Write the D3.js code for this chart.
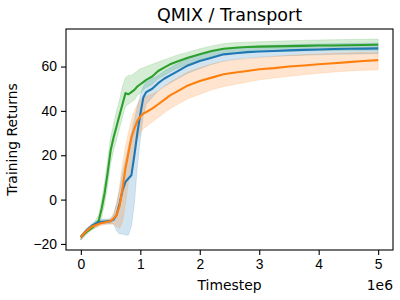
<!DOCTYPE html>
<html>
<head>
<meta charset="utf-8">
<script src="https://cdn.jsdelivr.net/npm/d3@7"></script>
<style>
  body { margin: 0; background: #fff; }
  svg { font-family: "DejaVu Sans", sans-serif; }
  .axis path, .axis line { stroke: #000; stroke-width: 1.1; }
  .axis text { font-size: 13.9px; fill: #000; }
</style>
</head>
<body>
<svg id="chart" width="400" height="300"></svg>
<script>
// timesteps (in millions)
const steps = [0, 0.1, 0.2, 0.3, 0.35, 0.4, 0.45, 0.5, 0.55, 0.6, 0.65, 0.7, 0.75, 0.8, 0.85, 0.9, 0.95, 1.0, 1.05, 1.1,
  1.2, 1.3, 1.4, 1.5, 1.6, 1.8, 2.0, 2.2, 2.4, 2.6, 2.8, 3.0, 3.25, 3.5, 3.75, 4.0, 4.25, 4.5, 4.75, 5.0];

const greenMean = [-16.9, -14.5, -12.5, -9.5, -4, 3, 12, 22, 28, 33, 38, 43, 48, 47.5, 48.5, 49.5, 51, 52, 53, 54,
  55.5, 58, 59.5, 61, 62, 64, 65.5, 67, 68, 68.5, 68.8, 69, 69.1, 69.2, 69.3, 69.5, 69.5, 69.6, 69.7, 69.8];
const greenLo = [-18.2, -15.5, -13.5, -12, -8, -2, 6, 16, 22, 27, 32, 37, 42, 43, 44, 45, 47, 48, 49.5, 50.5,
  52, 54.5, 56, 57.5, 59, 61, 63, 64.5, 65.5, 66, 66.5, 66.8, 66.9, 67, 67.1, 67.2, 67.2, 67.3, 67.3, 67.3];
const greenHi = [-16, -13.5, -11.5, -7, 0, 8, 18, 28, 34, 40, 45, 51, 55, 56, 56, 57, 58, 59, 59.5, 60,
  61, 62, 63, 64, 65, 66.5, 68, 69.3, 70.3, 70.8, 71, 71.2, 71.4, 71.6, 71.8, 72, 72.1, 72.2, 72.3, 72.4];

const blueMean = [-16.9, -13.8, -11.5, -10.2, -10, -9.9, -9.8, -9.7, -9, -7, -2, 4, 8, 9.5, 11, 20, 30, 38.5, 46, 48.5,
  50, 52.5, 54.5, 56, 57.5, 60.5, 62.5, 64, 65.5, 66, 66.5, 66.8, 67, 67.3, 67.5, 67.7, 67.9, 68, 68.1, 68.2];
const blueLo = [-18.2, -14.8, -12.5, -11.2, -11, -11, -11, -11, -11, -14, -15.5, -15.5, -16, -16, -12, -2, 15, 27, 38, 43,
  46, 49, 51, 52.5, 54, 57, 59, 61, 62.5, 63.2, 63.8, 64.2, 64.6, 64.9, 65.1, 65.3, 65.5, 65.6, 65.7, 65.8];
const blueHi = [-16, -12.8, -10.5, -9.2, -8.8, -8.8, -8.8, -8.5, -7, -2, 4, 12, 18, 24, 30, 36, 42, 47, 51, 53,
  54.5, 56, 58, 59.5, 61, 63.5, 65.5, 66.8, 68, 68.6, 69, 69.3, 69.6, 69.8, 70, 70.2, 70.3, 70.4, 70.5, 70.6];

const orangeMean = [-16.9, -14, -12, -11, -10.6, -10.3, -10, -9.8, -8.5, -7, -3, 5, 14, 21, 28, 32, 35.5, 37.5, 38.8, 39.5,
  41, 43, 45, 47, 48.5, 51.5, 53.5, 55, 56.5, 57.3, 58, 58.8, 59.3, 60, 60.5, 61, 61.5, 62, 62.5, 62.9];
const orangeLo = [-18.2, -15, -13, -12, -11.6, -11.3, -11, -11, -11, -12, -13, -10, -2, 8, 16, 22, 27, 30, 32, 33,
  35, 37, 39, 41, 42.5, 45.5, 47.5, 49.5, 51, 52, 53, 54, 54.8, 55.6, 56.3, 57, 57.5, 58, 58.3, 58.5];
const orangeHi = [-16, -13, -11, -10, -9.6, -9.3, -9, -8.6, -6, -2, 6, 16, 24, 30, 36, 40, 43, 45, 46, 46.5,
  47.5, 49, 51, 53, 54.5, 57.5, 59.5, 61, 62.3, 63, 63.5, 64, 64.5, 65, 65.4, 65.7, 66, 66.2, 66.4, 66.5];

const series = [
  { color: '#2ca02c', mean: greenMean, lo: greenLo, hi: greenHi },
  { color: '#1f77b4', mean: blueMean, lo: blueLo, hi: blueHi },
  { color: '#ff7f0e', mean: orangeMean, lo: orangeLo, hi: orangeHi }
];

const xTicks = [0, 1, 2, 3, 4, 5];
const yTicks = [-20, 0, 20, 40, 60];

const margin = { top: 29, right: 7, bottom: 50, left: 66 };
const svg = d3.select('#chart');
const width = 400 - margin.left - margin.right;
const height = 300 - margin.top - margin.bottom;

const g = svg.append('g').attr('transform', `translate(${margin.left},${margin.top})`);

// matplotlib style 5% padding
const xPad = 0.05 * 5;
const x = d3.scaleLinear().domain([0 - xPad, 5 + xPad]).range([0, width]);
const yMin = d3.min(series, s => d3.min(s.lo));
const yMax = d3.max(series, s => d3.max(s.hi));
const yPad = 0.05 * (yMax - yMin);
const y = d3.scaleLinear().domain([yMin - yPad, yMax + yPad]).range([height, 0]);

// bands
series.forEach(s => {
  const area = d3.area()
    .x((d, i) => x(steps[i]))
    .y0((d, i) => y(s.lo[i]))
    .y1((d, i) => y(s.hi[i]));
  g.append('path')
    .datum(steps)
    .attr('d', area)
    .attr('fill', s.color)
    .attr('fill-opacity', 0.2)
    .attr('stroke', s.color)
    .attr('stroke-opacity', 0.2)
    .attr('stroke-width', 0.8);
});

// mean lines
series.forEach(s => {
  const line = d3.line()
    .x((d, i) => x(steps[i]))
    .y((d, i) => y(s.mean[i]));
  g.append('path')
    .datum(steps)
    .attr('d', line)
    .attr('fill', 'none')
    .attr('stroke', s.color)
    .attr('stroke-width', 2.1)
    .attr('stroke-linejoin', 'round');
});

// axes
g.append('g')
  .attr('class', 'axis')
  .attr('transform', `translate(0,${height})`)
  .call(d3.axisBottom(x).tickValues(xTicks).tickFormat(d3.format('d')).tickSize(5).tickPadding(4).tickSizeOuter(0));

g.append('g')
  .attr('class', 'axis')
  .call(d3.axisLeft(y).tickValues(yTicks).tickSize(5).tickPadding(4).tickSizeOuter(0));

g.selectAll('.axis .domain').remove();

// frame
g.append('rect')
  .attr('width', width)
  .attr('height', height)
  .attr('fill', 'none')
  .attr('stroke', '#000')
  .attr('stroke-width', 1.1);

// texts
svg.append('text')
  .attr('x', margin.left + width / 2)
  .attr('y', 21)
  .attr('text-anchor', 'middle')
  .style('font-size', '17.5px')
  .text('QMIX / Transport');

svg.append('text')
  .attr('x', margin.left + width / 2)
  .attr('y', 290)
  .attr('text-anchor', 'middle')
  .style('font-size', '13.9px')
  .text('Timestep');

svg.append('text')
  .attr('x', margin.left + width)
  .attr('y', 290)
  .attr('text-anchor', 'end')
  .style('font-size', '13.9px')
  .text('1e6');

svg.append('text')
  .attr('transform', `translate(17,${margin.top + height / 2}) rotate(-90)`)
  .attr('text-anchor', 'middle')
  .style('font-size', '13.9px')
  .text('Training Returns');
</script>
</body>
</html>
